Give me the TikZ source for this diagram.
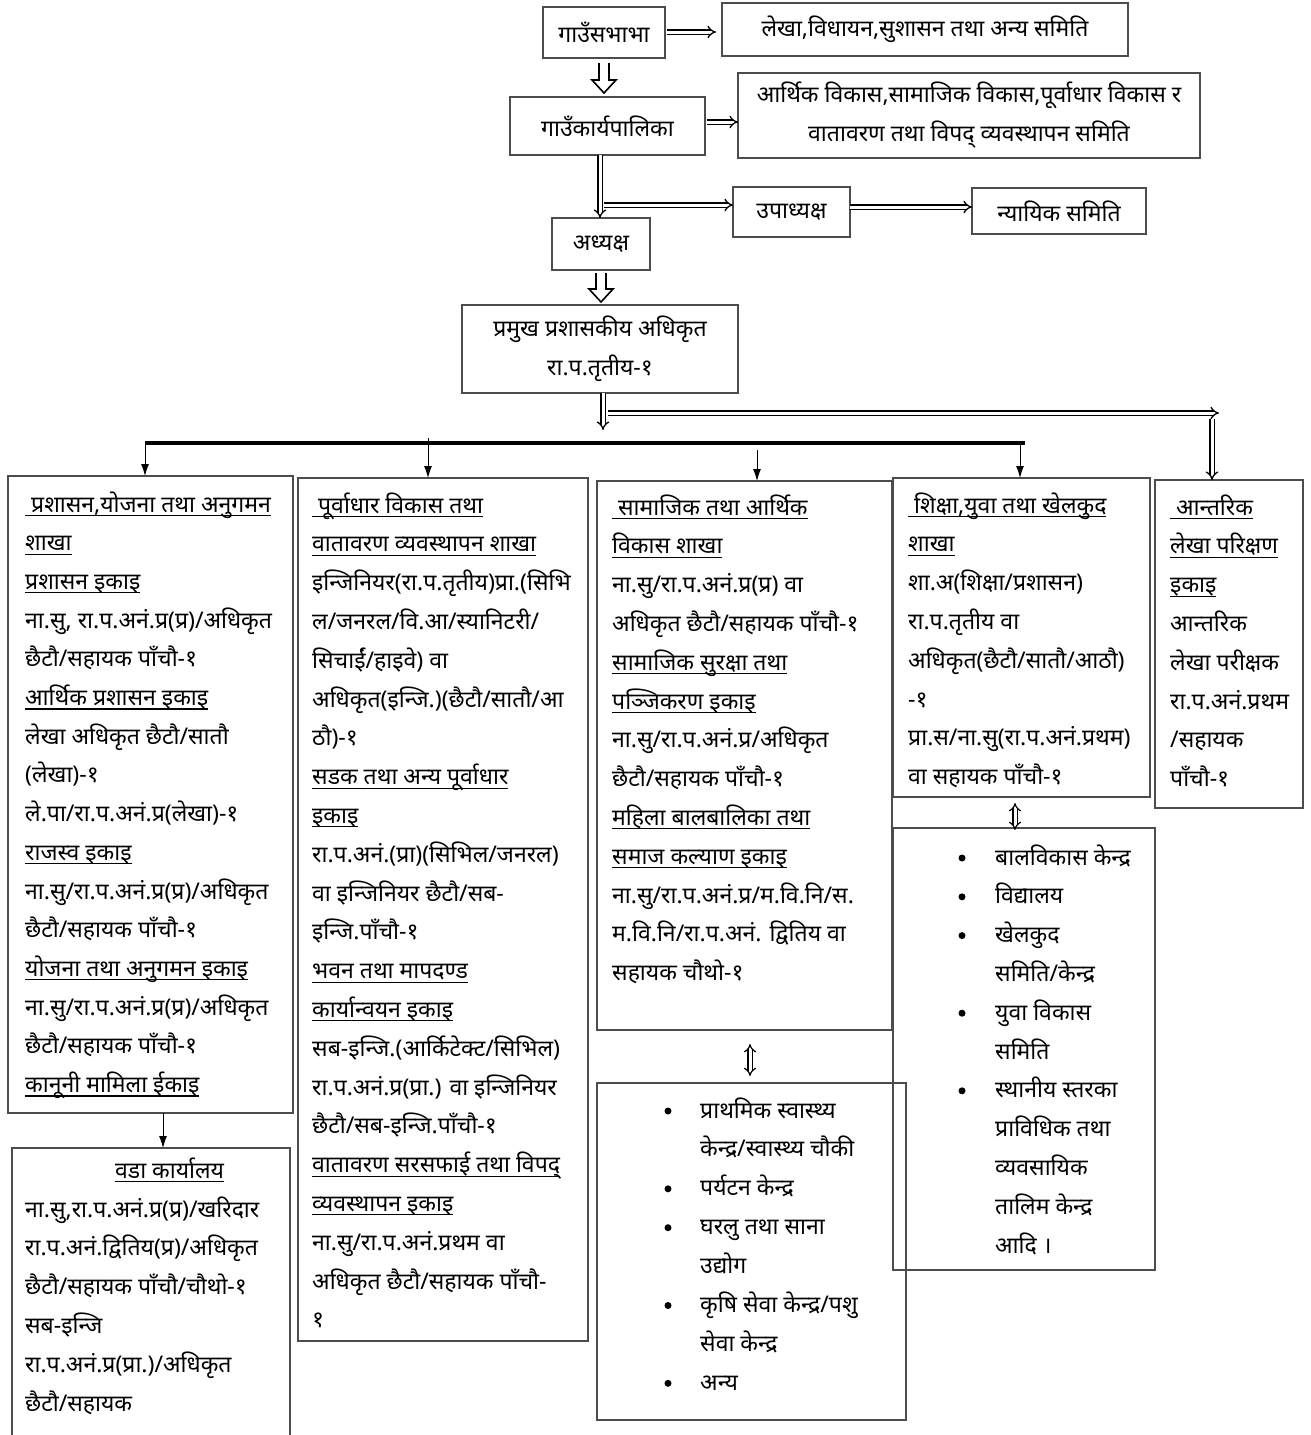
\documentclass[tikz,border=0pt]{standalone}
\usepackage{fontspec}
\newfontfamily\dev[Script=Devanagari]{Noto Sans}
\usetikzlibrary{arrows.meta,calc}
\newcommand\ulx[1]{\setbox0\hbox{#1}\rlap{\rule[-4pt]{\wd0}{1.1pt}}\box0}
\newcommand\bx[6]{\node[box, minimum width={#4-#2}, minimum height={#5-#3}] (#1) at (#2,#3) {#6};}
\newcommand\txtlines[5]{\foreach \t [count=\i from 0] in {#5} {\node[ln] (#1-\i) at (#2,{#3+#4*\i}) {\t};}}
\begin{document}
\begin{tikzpicture}[x=1pt,y=-1pt,
  box/.style={draw=black!70, line width=1.2pt, inner sep=0pt, outer sep=0pt, anchor=north west, align=center, font=\dev\fontsize{23}{39}\selectfont},
  ln/.style={font=\dev\fontsize{23}{26}\selectfont, inner sep=0pt, anchor=base west},
  bul/.style={circle, fill=black, inner sep=0pt, minimum size=7pt},
  dbl/.style={double, double distance=3pt, line width=1.3pt, -{Implies}},
  dblud/.style={double, double distance=3pt, line width=1.2pt, {Implies}-{Implies}},
  thinarr/.style={line width=1pt, -{Latex[length=12pt,width=8pt]}},
  hollow/.style={line width=1.6pt, line join=miter},
  trunk/.style={line width=4.5pt}
]
\useasboundingbox (0,0) rectangle (1311,1435);
\fill[white] (0,0) rectangle (1311,1435);

% top boxes
\bx{b1}{543}{7}{665}{58}{गाउँसभाभा}
\bx{b2}{722}{3}{1128}{56}{लेखा,विधायन,सुशासन तथा अन्य समिति}
\bx{b3}{510}{97}{705}{155}{गाउँकार्यपालिका}
\bx{b4}{738}{73}{1200}{158}{आर्थिक विकास,सामाजिक विकास,पूर्वाधार विकास र\\वातावरण तथा विपद् व्यवस्थापन समिति}
\bx{b5}{733}{187}{850}{237}{उपाध्यक्ष}
\bx{b6}{972}{188}{1146}{234}{न्यायिक समिति}
\bx{b7}{552}{218}{650}{270}{अध्यक्ष}
\bx{b8}{462}{305}{738}{393}{प्रमुख प्रशासकीय अधिकृत\\रा.प.तृतीय-१}

% lower boxes
\bx{c1}{8}{476}{293}{1113}{}
\bx{c1b}{12}{1148}{290}{1445}{}
\bx{c2}{298}{478}{588}{1341}{}
\bx{c3}{597}{481}{892}{1030}{}
\bx{c3b}{597}{1083}{906}{1420}{}
\bx{c4}{893}{478}{1150}{797}{}
\bx{c4b}{893}{828}{1155}{1270}{}
\bx{c5}{1155}{480}{1303}{808}{}

% texts
\txtlines{c1t}{25}{512}{38.7}{{\ulx{\ प्रशासन,योजना तथा अनुगमन}},{\ulx{शाखा}},{\ulx{प्रशासन इकाइ}},{ना.सु, रा.प.अनं.प्र(प्र)/अधिकृत},{छैटौ/सहायक पाँचौ-१},{\ulx{आर्थिक प्रशासन इकाइ}},{लेखा अधिकृत छैटौ/सातौ},{(लेखा)-१},{ले.पा/रा.प.अनं.प्र(लेखा)-१},{\ulx{राजस्व इकाइ}},{ना.सु/रा.प.अनं.प्र(प्र)/अधिकृत},{छैटौ/सहायक पाँचौ-१},{\ulx{योजना तथा अनुगमन इकाइ}},{ना.सु/रा.प.अनं.प्र(प्र)/अधिकृत},{छैटौ/सहायक पाँचौ-१},{\ulx{कानूनी मामिला ईकाइ}}}

\node[ln] (c1bh) at (115,1178) {\ulx{वडा कार्यालय}};
\txtlines{c1bt}{25}{1217}{38.8}{{ना.सु,रा.प.अनं.प्र(प्र)/खरिदार},{रा.प.अनं.द्वितिय(प्र)/अधिकृत},{छैटौ/सहायक पाँचौ/चौथो-१},{सब-इन्जि},{रा.प.अनं.प्र(प्रा.)/अधिकृत},{छैटौ/सहायक}}

\txtlines{c2t}{312}{513}{38.8}{{\ulx{\ पूर्वाधार विकास तथा}},{\ulx{वातावरण व्यवस्थापन शाखा}},{इन्जिनियर(रा.प.तृतीय)प्रा.(सिभि},{ल/जनरल/वि.आ/स्यानिटरी/},{सिचाईं/हाइवे) वा},{अधिकृत(इन्जि.)(छैटौ/सातौ/आ},{ठौ)-१},{\ulx{सडक तथा अन्य पूर्वाधार}},{\ulx{इकाइ}},{रा.प.अनं.(प्रा)(सिभिल/जनरल)},{वा इन्जिनियर छैटौ/सब-},{इन्जि.पाँचौ-१},{\ulx{भवन तथा मापदण्ड}},{\ulx{कार्यान्वयन इकाइ}},{सब-इन्जि.(आर्किटेक्ट/सिभिल)},{रा.प.अनं.प्र(प्रा.) वा इन्जिनियर},{छैटौ/सब-इन्जि.पाँचौ-१},{\ulx{वातावरण सरसफाई तथा विपद्}},{\ulx{व्यवस्थापन इकाइ}},{ना.सु/रा.प.अनं.प्रथम वा},{अधिकृत छैटौ/सहायक पाँचौ-},{१}}

\txtlines{c3t}{612}{515}{38.8}{{\ulx{\ सामाजिक तथा आर्थिक}},{\ulx{विकास शाखा}},{ना.सु/रा.प.अनं.प्र(प्र) वा},{अधिकृत छैटौ/सहायक पाँचौ-१},{\ulx{सामाजिक सुरक्षा तथा}},{\ulx{पञ्जिकरण इकाइ}},{ना.सु/रा.प.अनं.प्र/अधिकृत},{छैटौ/सहायक पाँचौ-१},{\ulx{महिला बालबालिका तथा}},{\ulx{समाज कल्याण इकाइ}},{ना.सु/रा.प.अनं.प्र/म.वि.नि/स.},{म.वि.नि/रा.प.अनं. द्वितिय वा},{सहायक चौथो-१}}

\txtlines{c3bt}{700}{1118}{38.9}{{प्राथमिक स्वास्थ्य},{केन्द्र/स्वास्थ्य चौकी},{पर्यटन केन्द्र},{घरलु तथा साना},{उद्योग},{कृषि सेवा केन्द्र/पशु},{सेवा केन्द्र},{अन्य}}
\foreach \k in {0,2,3,5,7} {\node[bul] (c3bb\k) at (668,{1111+38.9*\k}) {};}

\txtlines{c4t}{908}{513}{38.8}{{\ulx{\ शिक्षा,युवा तथा खेलकुद}},{\ulx{शाखा}},{शा.अ(शिक्षा/प्रशासन)},{रा.प.तृतीय वा},{अधिकृत(छैटौ/सातौ/आठौ)},{-१},{प्रा.स/ना.सु(रा.प.अनं.प्रथम)},{वा सहायक पाँचौ-१}}

\txtlines{c4bt}{995}{865}{38.8}{{बालविकास केन्द्र},{विद्यालय},{खेलकुद},{समिति/केन्द्र},{युवा विकास},{समिति},{स्थानीय स्तरका},{प्राविधिक तथा},{व्यवसायिक},{तालिम केन्द्र},{आदि ।}}
\foreach \k in {0,1,2,4,6} {\node[bul] (c4bb\k) at (962,{858+38.8*\k}) {};}

\txtlines{c5t}{1170}{515}{38.8}{{\ulx{\ आन्तरिक}},{\ulx{लेखा परिक्षण}},{\ulx{इकाइ}},{आन्तरिक},{लेखा परीक्षक},{रा.प.अनं.प्रथम},{/सहायक},{पाँचौ-१}}

% connectors top
\draw[dbl, shorten <=2pt, shorten >=6pt] (b1.east |- 0,32) -- (b2.west |- 0,32);
\coordinate (h1) at ($(b1.south)+(0,5)$);
\draw[hollow] ($(h1)+(-5,0)$) -- ++(0,17) -- ++(-7,0) -- ($(h1)+(0,30)$) -- ($(h1)+(12,17)$) -- ++(-7,0) -- ($(h1)+(5,0)$);
\draw[dbl, shorten <=2pt] (b3.east |- 0,122) -- (b4.west |- 0,122);
\coordinate (v1) at (b3.south -| 600,0);
\draw[dbl] (v1) -- (v1 |- b7.north);
\coordinate (br1) at (604,205);
\draw[dbl] (br1) -- (br1 -| b5.west);
\draw[dbl] (b5.east |- 0,207) -- (b6.west |- 0,207);
\coordinate (h2) at ($(b7.south)+(0,3)$);
\draw[hollow] ($(h2)+(-5,0)$) -- ++(0,16) -- ++(-7,0) -- ($(h2)+(0,29)$) -- ($(h2)+(12,16)$) -- ++(-7,0) -- ($(h2)+(5,0)$);

% CAO down
\coordinate (v2) at (b8.south -| 603,0);
\draw[dbl] (v2) -- ++(0,37);
\coordinate (br2) at (608,413);
\coordinate (br2e) at (1219,413);
\draw[dbl] (br2) -- (br2e);
\coordinate (v3) at (1212,419);
\draw[dbl] (v3) -- (v3 |- c5.north);

% trunk
\coordinate (t1) at (145,443);
\coordinate (t2) at (1025,443);
\draw[trunk] (t1) -- (t2);
\coordinate (a1) at (145,443);
\coordinate (a2) at (428,438);
\coordinate (a3) at (757,450);
\coordinate (a4) at (1020,443);
\draw[thinarr] (a1) -- (a1 |- c1.north);
\draw[thinarr] (a2) -- (a2 |- c2.north);
\draw[thinarr] (a3) -- (a3 |- c3.north);
\draw[thinarr] (a4) -- (a4 |- c4.north);

\coordinate (w1) at (c1.south -| 163,0);
\draw[thinarr] (w1) -- (w1 |- c1b.north);

\coordinate (u3) at (750,1044);
\coordinate (d3) at (750,1076);
\draw[dblud] (u3) -- (d3);
\coordinate (u4) at (1015,803);
\coordinate (d4) at (1015,830);
\draw[dblud] (u4) -- (d4);
\end{tikzpicture}
\end{document}
